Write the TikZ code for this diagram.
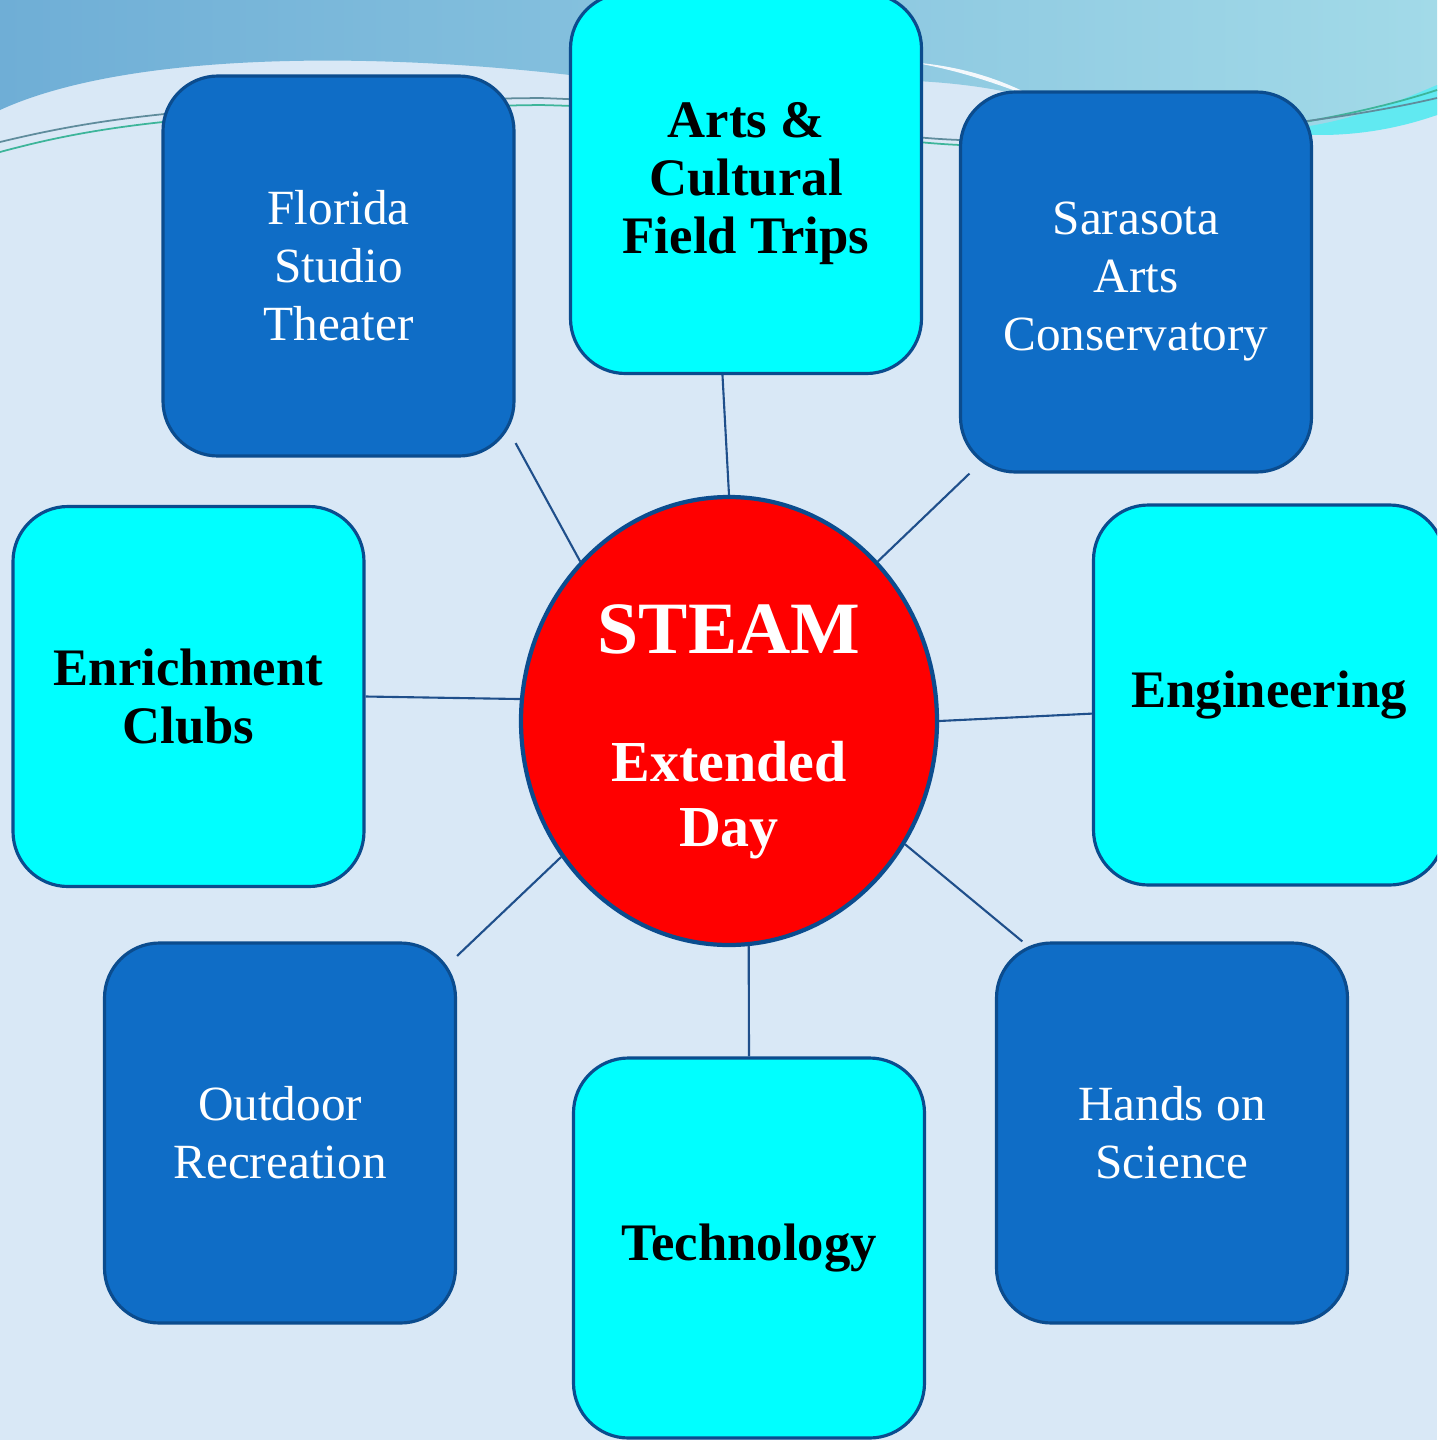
\documentclass[tikz,border=0pt]{standalone}
\usepackage{fontspec}
\setmainfont{Liberation Serif}
\usepackage{tikz}
\definecolor{PaperBlue}{HTML}{D9E8F6}
\definecolor{TopLeft}{HTML}{6FAED6}
\definecolor{TopRight}{HTML}{A2DAE8}
\definecolor{DarkBox}{HTML}{0F6DC6}
\definecolor{BoxLine}{HTML}{0B4C8E}
\definecolor{Aqua}{HTML}{00FFFF}
\definecolor{LinkBlue}{HTML}{1F4F8B}
\definecolor{WaveGreen}{HTML}{3DB59A}
\definecolor{WaveGray}{HTML}{5F8C9C}
\usetikzlibrary{shapes.geometric}
\pgfdeclarelayer{background}
\pgfdeclarelayer{links}
\pgfsetlayers{background,links,main}

\begin{document}
\begin{tikzpicture}[
  darkbox/.style={draw=BoxLine, line width=0.9pt, fill=DarkBox, rounded corners=0.55cm,
    minimum width=3.51cm, minimum height=3.80cm, text=white, align=center,
    font=\fontsize{14}{16.5}\selectfont},
  lightbox/.style={darkbox, fill=Aqua, text=black, font=\bfseries\fontsize{15}{16.5}\selectfont},
  link/.style={LinkBlue, line width=0.6pt}]
\useasboundingbox (0,0) rectangle (14.37,-14.40);
\clip (0,0) rectangle (14.37,-14.40);

%%background Layer
\begin{pgfonlayer}{background}
\fill[PaperBlue] (0,0) rectangle (14.37,-14.40);
\shade[left color=TopLeft, right color=TopRight] (0,0) -- (0,-1.10)
  .. controls (1.2,-0.55) and (3.5,-0.50) .. (5.7,-0.75)
  .. controls (7.5,-0.95) and (9.0,-0.60) .. (10.4,-1.00)
  .. controls (11.8,-1.40) and (13.2,-1.45) .. (14.37,-1.15) -- (14.37,0) -- cycle;
\fill[white!70!PaperBlue] (9.1,-0.62) .. controls (9.6,-0.70) and (10.0,-0.85) .. (10.4,-1.00)
  .. controls (10.0,-0.78) and (9.6,-0.66) .. cycle;
\fill[Aqua!40!TopRight] (12.6,-1.30) .. controls (13.3,-1.30) and (13.9,-1.05) .. (14.37,-0.85)
  -- (14.37,-1.15) .. controls (13.8,-1.35) and (13.2,-1.40) .. cycle;
\draw[WaveGreen, line width=0.5pt] (0,-1.52) .. controls (1.0,-1.25) and (2.0,-1.10) .. (5.4,-1.05)
  .. controls (7.5,-1.10) and (8.5,-1.40) .. (9.6,-1.45)
  .. controls (11.0,-1.50) and (13.0,-1.35) .. (14.37,-0.90);
\draw[WaveGray, line width=0.5pt] (0,-1.42) .. controls (1.0,-1.18) and (2.0,-1.02) .. (5.4,-0.98)
  .. controls (7.5,-1.05) and (8.5,-1.36) .. (9.6,-1.40)
  .. controls (11.0,-1.44) and (13.0,-1.30) .. (14.37,-0.98);
\end{pgfonlayer}

%%main Layer
\node[ellipse, draw=BoxLine, line width=1.2pt, fill=red, text=white, inner sep=0pt,
  minimum width=4.16cm, minimum height=4.48cm, align=center,
  font=\bfseries\fontsize{16.5}{18.5}\selectfont] (steam) at (7.29,-7.21)
  {{\fontsize{21}{25}\selectfont\rule{0pt}{20pt}STEAM}\\[18pt]Extended\\Day};

\node[darkbox] (florida) at (3.385,-2.66) {Florida\\Studio\\Theater};
\node[lightbox] (arts) at (7.46,-1.835) {Arts \&\\Cultural\\Field Trips};
\node[darkbox] (sarasota) at (11.36,-2.82) {Sarasota\\Arts\\Conservatory};
\node[lightbox] (enrich) at (1.885,-6.965) {Enrichment\\Clubs};
\node[lightbox] (engin) at (12.69,-6.95) {Engineering};
\node[darkbox] (outdoor) at (2.80,-11.33) {Outdoor\\Recreation};
\node[lightbox] (tech) at (7.49,-12.48) {Technology};
\node[darkbox] (hands) at (11.72,-11.33) {Hands on\\Science};

%%links Layer
\begin{pgfonlayer}{links}
\draw[link] (steam.133) -- (florida.-45);
\draw[link] (steam.90) -- (arts.-97);
\draw[link] (steam.47) -- (sarasota.-131);
\draw[link] (steam.174) -- (enrich.east);
\draw[link] (steam.0) -- (engin.186);
\draw[link] (steam.219) -- (outdoor.45);
\draw[link] (steam.-85) -- (tech.north);
\draw[link] (steam.-35) -- (hands.128);
\end{pgfonlayer}

\end{tikzpicture}
\end{document}
